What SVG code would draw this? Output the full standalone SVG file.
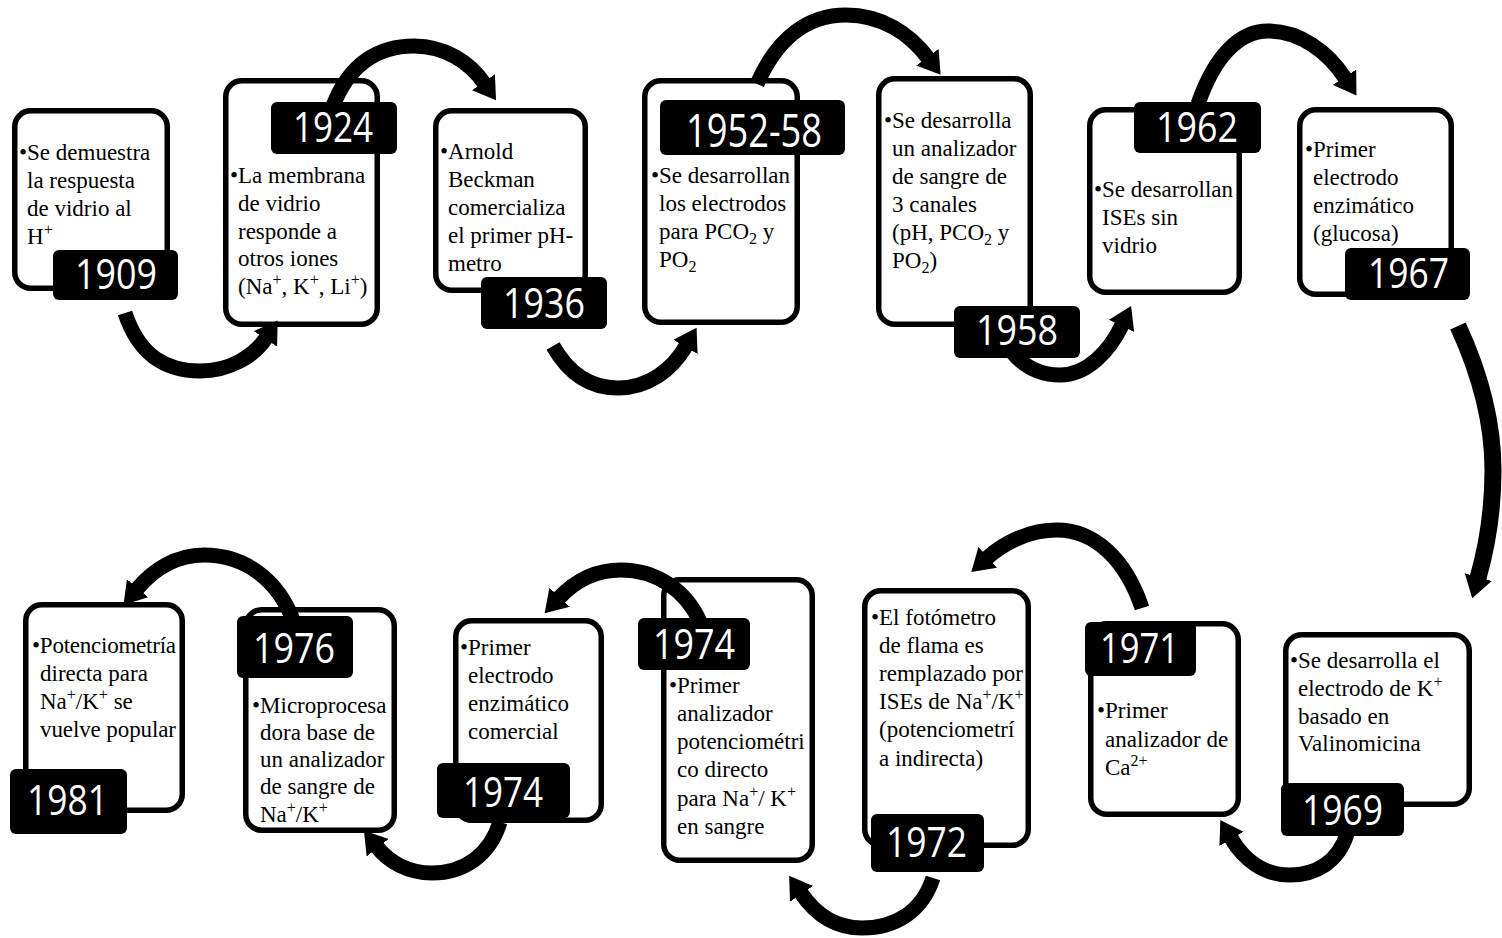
<svg xmlns="http://www.w3.org/2000/svg" width="1502" height="938" viewBox="0 0 1502 938">
<style>
.box{fill:none;stroke:#000;stroke-width:5.5}
.tag{fill:#000}
.yr{font-family:"Open Sans","Liberation Sans",sans-serif;font-size:42px;fill:#fff}
.tx{font-family:"Liberation Serif","Times New Roman",serif;font-size:23px;fill:#000}
.sp{font-size:16px}
.arc{fill:none;stroke:#000;stroke-width:15;marker-end:url(#ah)}
</style>
<defs>
<marker id="ah" markerUnits="userSpaceOnUse" markerWidth="22" markerHeight="28" viewBox="0 0 22 28" refX="1" refY="14" orient="auto"><path d="M0,0 L22,14 L0,28 z" fill="#000"/></marker>
</defs>
<rect width="1502" height="938" fill="#fff"/>
<g id="connectors">
<path class="arc" d="M125,313 C140,358 168,371 200,371 C230,371 254,356 266,338"/>
<path class="arc" d="M333,106 C350,62 380,46 414,46 C446,46 470,63 484,83"/>
<path class="arc" d="M553,346 C570,376 592,388 618,388 C648,388 672,370 686,346"/>
<path class="arc" d="M757,84 C778,36 810,15 846,15 C882,15 910,34 928,58"/>
<path class="arc" d="M1012,352 C1025,368 1042,375 1060,375 C1088,375 1110,350 1122,325"/>
<path class="arc" d="M1198,104 C1215,55 1240,31 1268,31 C1300,31 1328,52 1345,78"/>
<path class="arc" style="stroke-width:17" d="M1458,326 C1482,378 1493,425 1493,470 C1493,512 1486,550 1478,578"/>
<path class="arc" d="M1347,834 C1338,862 1316,875 1290,875 C1264,875 1244,860 1231,838"/>
<path class="arc" d="M1142,608 C1126,560 1095,530 1057,530 C1030,530 1005,542 987,558"/>
<path class="arc" d="M933,878 C922,912 895,928 862,928 C836,928 816,915 801,893"/>
<path class="arc" d="M700,622 C686,590 656,570 621,570 C595,570 574,582 559,598"/>
<path class="arc" d="M500,822 C490,855 464,873 432,873 C408,873 389,862 377,847"/>
<path class="arc" d="M293,620 C278,580 245,555 204,555 C176,555 153,570 137,589"/>
</g>
<g id="n1909">
<rect class="box" x="14.75" y="110.75" width="152.5" height="177.5" rx="16"/>
<text class="tx"><tspan x="19" y="160">•Se demuestra</tspan><tspan x="27" y="188">la respuesta</tspan><tspan x="27" y="216">de vidrio al</tspan><tspan x="27" y="244">H</tspan><tspan class="sp" dy="-9">+</tspan></text>
<rect class="tag" x="53" y="250" width="125" height="50" rx="6"/>
<text class="yr" x="75" y="289" textLength="82" lengthAdjust="spacingAndGlyphs">1909</text>
</g>
<g id="n1924">
<rect class="box" x="225.75" y="80.75" width="151.5" height="243.5" rx="16"/>
<text class="tx"><tspan x="230" y="183">•La membrana</tspan><tspan x="238" y="211">de vidrio</tspan><tspan x="238" y="239">responde a</tspan><tspan x="238" y="266">otros iones</tspan><tspan x="238" y="294">(Na</tspan><tspan class="sp" dy="-9">+</tspan><tspan dy="9">, K</tspan><tspan class="sp" dy="-9">+</tspan><tspan dy="9">, Li</tspan><tspan class="sp" dy="-9">+</tspan><tspan dy="9">)</tspan></text>
<rect class="tag" x="271" y="102" width="126" height="52" rx="6"/>
<text class="yr" x="293" y="142" textLength="80" lengthAdjust="spacingAndGlyphs">1924</text>
</g>
<g id="n1936">
<rect class="box" x="435.75" y="110.75" width="149.5" height="179.5" rx="16"/>
<text class="tx"><tspan x="440" y="159">•Arnold</tspan><tspan x="448" y="187">Beckman</tspan><tspan x="448" y="215">comercializa</tspan><tspan x="448" y="243">el primer pH-</tspan><tspan x="448" y="271">metro</tspan></text>
<rect class="tag" x="481" y="277" width="126" height="52" rx="6"/>
<text class="yr" x="503" y="318" textLength="82" lengthAdjust="spacingAndGlyphs">1936</text>
</g>
<g id="n1952">
<rect class="box" x="644.75" y="80.75" width="152.5" height="241.5" rx="16"/>
<text class="tx"><tspan x="651" y="183">•Se desarrollan</tspan><tspan x="659" y="211">los electrodos</tspan><tspan x="659" y="239">para PCO</tspan><tspan class="sp" dy="5">2</tspan><tspan dy="-5"> y</tspan><tspan x="659" y="267">PO</tspan><tspan class="sp" dy="5">2</tspan></text>
<rect class="tag" x="660" y="100" width="185" height="55" rx="6"/>
<text class="yr" style="font-size:46px" x="686" y="147" textLength="136" lengthAdjust="spacingAndGlyphs">1952-58</text>
</g>
<g id="n1958">
<rect class="box" x="878.75" y="78.75" width="151.5" height="245.5" rx="16"/>
<text class="tx"><tspan x="884" y="128">•Se desarrolla</tspan><tspan x="892" y="156">un analizador</tspan><tspan x="892" y="184">de sangre de</tspan><tspan x="892" y="212">3 canales</tspan><tspan x="892" y="240">(pH, PCO</tspan><tspan class="sp" dy="5">2</tspan><tspan dy="-5"> y</tspan><tspan x="892" y="268">PO</tspan><tspan class="sp" dy="5">2</tspan><tspan dy="-5">)</tspan></text>
<rect class="tag" x="954" y="306" width="126" height="52" rx="6"/>
<text class="yr" x="976" y="345" textLength="82" lengthAdjust="spacingAndGlyphs">1958</text>
</g>
<g id="n1962">
<rect class="box" x="1089.75" y="109.75" width="149.5" height="182.5" rx="16"/>
<text class="tx"><tspan x="1094" y="197">•Se desarrollan</tspan><tspan x="1102" y="225">ISEs sin</tspan><tspan x="1102" y="253">vidrio</tspan></text>
<rect class="tag" x="1134" y="102" width="127" height="51" rx="6"/>
<text class="yr" x="1156" y="142" textLength="82" lengthAdjust="spacingAndGlyphs">1962</text>
</g>
<g id="n1967">
<rect class="box" x="1299.75" y="109.75" width="151.5" height="184.5" rx="16"/>
<text class="tx"><tspan x="1305" y="157">•Primer</tspan><tspan x="1313" y="185">electrodo</tspan><tspan x="1313" y="213">enzimático</tspan><tspan x="1313" y="241">(glucosa)</tspan></text>
<rect class="tag" x="1345" y="248" width="125" height="52" rx="6"/>
<text class="yr" x="1368" y="288" textLength="81" lengthAdjust="spacingAndGlyphs">1967</text>
</g>
<g id="n1969">
<rect class="box" x="1285.75" y="634.75" width="183.5" height="169.5" rx="16"/>
<text class="tx"><tspan x="1290" y="668">•Se desarrolla el</tspan><tspan x="1298" y="696">electrodo de K</tspan><tspan class="sp" dy="-9">+</tspan><tspan x="1298" y="724">basado en</tspan><tspan x="1298" y="751">Valinomicina</tspan></text>
<rect class="tag" x="1281" y="783" width="123" height="53" rx="6"/>
<text class="yr" x="1302" y="825" textLength="81" lengthAdjust="spacingAndGlyphs">1969</text>
</g>
<g id="n1971">
<rect class="box" x="1090.75" y="623.75" width="147.5" height="190.5" rx="16"/>
<text class="tx"><tspan x="1097" y="718">•Primer</tspan><tspan x="1105" y="747">analizador de</tspan><tspan x="1105" y="775">Ca</tspan><tspan class="sp" dy="-9">2+</tspan></text>
<rect class="tag" x="1085" y="622" width="111" height="54" rx="6"/>
<text class="yr" x="1100" y="663" textLength="79" lengthAdjust="spacingAndGlyphs">1971</text>
</g>
<g id="n1972">
<rect class="box" x="864.75" y="590.75" width="163.5" height="254.5" rx="16"/>
<text class="tx"><tspan x="871" y="625">•El fotómetro</tspan><tspan x="879" y="653">de flama es</tspan><tspan x="879" y="681" textLength="144">remplazado por</tspan><tspan x="879" y="709">ISEs de Na</tspan><tspan class="sp" dy="-9">+</tspan><tspan dy="9">/K</tspan><tspan class="sp" dy="-9">+</tspan><tspan x="879" y="737">(potenciometrí</tspan><tspan x="879" y="766">a indirecta)</tspan></text>
<rect class="tag" x="871" y="814" width="113" height="58" rx="6"/>
<text class="yr" x="886" y="857" textLength="81" lengthAdjust="spacingAndGlyphs">1972</text>
</g>
<g id="n1974b">
<rect class="box" x="663.75" y="579.75" width="148.5" height="280.5" rx="16"/>
<text class="tx"><tspan x="669" y="693">•Primer</tspan><tspan x="677" y="721">analizador</tspan><tspan x="677" y="749">potenciométri</tspan><tspan x="677" y="777">co  directo</tspan><tspan x="677" y="806">para Na</tspan><tspan class="sp" dy="-9">+</tspan><tspan dy="9">/ K</tspan><tspan class="sp" dy="-9">+</tspan><tspan x="677" y="834">en sangre</tspan></text>
<rect class="tag" x="638" y="618" width="112" height="52" rx="6"/>
<text class="yr" x="653" y="659" textLength="82" lengthAdjust="spacingAndGlyphs">1974</text>
</g>
<g id="n1974a">
<rect class="box" x="455.75" y="620.75" width="145.5" height="199.5" rx="16"/>
<text class="tx"><tspan x="460" y="655">•Primer</tspan><tspan x="468" y="683">electrodo</tspan><tspan x="468" y="711">enzimático</tspan><tspan x="468" y="739">comercial</tspan></text>
<rect class="tag" x="437" y="763" width="133" height="55" rx="6"/>
<text class="yr" x="463" y="807" textLength="80" lengthAdjust="spacingAndGlyphs">1974</text>
</g>
<g id="n1976">
<rect class="box" x="245.75" y="609.75" width="148.5" height="220.5" rx="16"/>
<text class="tx"><tspan x="252" y="713">•Microprocesa</tspan><tspan x="260" y="740">dora base de</tspan><tspan x="260" y="767">un analizador</tspan><tspan x="260" y="794">de sangre de</tspan><tspan x="260" y="822">Na</tspan><tspan class="sp" dy="-9">+</tspan><tspan dy="9">/K</tspan><tspan class="sp" dy="-9">+</tspan></text>
<rect class="tag" x="237" y="616" width="116" height="62" rx="6"/>
<text class="yr" x="253" y="663" textLength="82" lengthAdjust="spacingAndGlyphs">1976</text>
</g>
<g id="n1981">
<rect class="box" x="25.75" y="604.75" width="156.5" height="205.5" rx="16"/>
<text class="tx"><tspan x="32" y="653" textLength="144">•Potenciometría</tspan><tspan x="40" y="681">directa para</tspan><tspan x="40" y="709">Na</tspan><tspan class="sp" dy="-9">+</tspan><tspan dy="9">/K</tspan><tspan class="sp" dy="-9">+</tspan><tspan dy="9"> se</tspan><tspan x="40" y="737" textLength="136">vuelve popular</tspan></text>
<rect class="tag" x="10" y="769" width="117" height="65" rx="6"/>
<text class="yr" x="27" y="815" textLength="81" lengthAdjust="spacingAndGlyphs">1981</text>
</g>
</svg>
